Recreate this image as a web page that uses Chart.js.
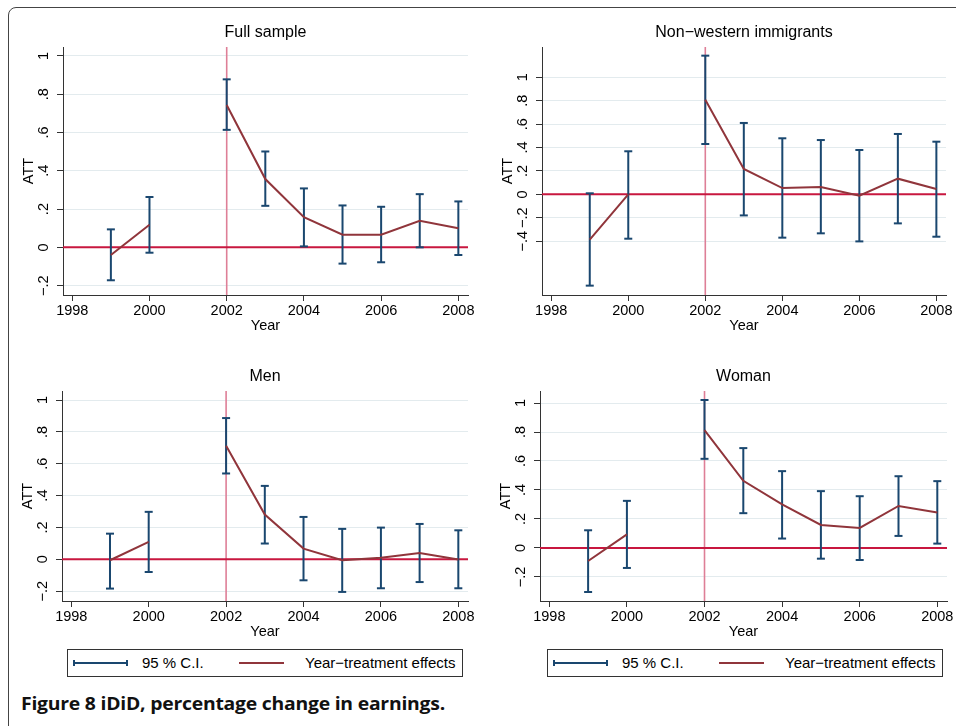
<!DOCTYPE html>
<html>
<head>
<meta charset="utf-8">
<script src="https://cdn.jsdelivr.net/npm/chart.js@4.4.1/dist/chart.umd.min.js"></script>
<style>
  body { margin: 0; background: #fff; width: 956px; height: 726px; overflow: hidden; position: relative;
         font-family: "Liberation Sans", Arial, sans-serif; }
  .frame { position: absolute; left: 8px; top: 7px; width: 1100px; height: 900px;
           border: 1.5px solid #444; border-radius: 8px; }
  canvas { position: absolute; }
  .legend { position: absolute; top: 649px; width: 396px; height: 28px; border: 1px solid #333;
            box-sizing: border-box; font-size: 15px; color: #000; }
  .legend span { position: absolute; }
  .ci { left: 5px; top: 12px; width: 55px; height: 0; border-top: 2px solid #1a476f; }
  .ci::before, .ci::after { content: ""; position: absolute; top: -4px; width: 2px; height: 6px; background: #1a476f; }
  .ci::before { left: 0; }
  .ci::after { right: 0; }
  .ln { left: 171px; top: 12px; width: 45px; height: 0; border-top: 2px solid #90353b; }
  .t1 { left: 74px; top: 4px; }
  .t2 { left: 237px; top: 4px; }
  #caption { position: absolute; left: 21px; top: 695px; line-height: 18px; font-size: 17px;
             font-family: "Open Sans", sans-serif; font-weight: 700; color: #111; letter-spacing: -0.2px;
             white-space: nowrap; transform-origin: 0 0; display: inline-block; }
</style>
</head>
<body>
<div class="frame"></div>

<div class="legend" style="left:67px">
  <span class="ci"></span><span class="t1">95 % C.I.</span>
  <span class="ln"></span><span class="t2">Year−treatment effects</span>
</div>
<div class="legend" style="left:547px">
  <span class="ci"></span><span class="t1">95 % C.I.</span>
  <span class="ln"></span><span class="t2">Year−treatment effects</span>
</div>
<div id="caption">Figure 8 iDiD, percentage change in earnings.</div>

<script>
// values (2001 has no estimate)
const years = [1999, 2000, 2001, 2002, 2003, 2004, 2005, 2006, 2007, 2008];
const treatYear = 2002;
const xTicks = [1998, 2000, 2002, 2004, 2006, 2008];
const xTickLabels = ["1998", "2000", "2002", "2004", "2006", "2008"];

const fullEffect = [-0.040, 0.118, null, 0.744, 0.357, 0.158, 0.066, 0.066, 0.139, 0.100];
const fullLow    = [-0.172, -0.028, null, 0.614, 0.217, 0.005, -0.085, -0.078, 0.000, -0.040];
const fullHigh   = [0.094, 0.263, null, 0.878, 0.501, 0.308, 0.219, 0.212, 0.278, 0.240];

const nwEffect = [-0.387, 0.000, null, 0.809, 0.217, 0.054, 0.063, -0.011, 0.134, 0.046];
const nwLow    = [-0.780, -0.379, null, 0.430, -0.180, -0.370, -0.333, -0.402, -0.248, -0.362];
const nwHigh   = [0.009, 0.368, null, 1.185, 0.610, 0.479, 0.464, 0.379, 0.516, 0.450];

const menEffect = [-0.006, 0.109, null, 0.713, 0.281, 0.067, -0.006, 0.010, 0.040, -0.002];
const menLow    = [-0.184, -0.080, null, 0.539, 0.099, -0.132, -0.205, -0.182, -0.143, -0.182];
const menHigh   = [0.161, 0.298, null, 0.887, 0.461, 0.266, 0.191, 0.199, 0.222, 0.182];

const womanEffect = [-0.090, 0.094, null, 0.813, 0.463, 0.300, 0.159, 0.138, 0.290, 0.244];
const womanLow    = [-0.304, -0.138, null, 0.615, 0.240, 0.065, -0.074, -0.083, 0.083, 0.030];
const womanHigh   = [0.122, 0.325, null, 1.021, 0.689, 0.530, 0.392, 0.357, 0.495, 0.461];

const yTicksA = [-0.2, 0, 0.2, 0.4, 0.6, 0.8, 1];
const yTickLabelsA = ["−.2", "0", ".2", ".4", ".6", ".8", "1"];
const yTicksB = [-0.4, -0.2, 0, 0.2, 0.4, 0.6, 0.8, 1];
const yTickLabelsB = ["−.4", "−.2", "0", ".2", ".4", ".6", ".8", "1"];

const NAVY = "#1a476f", MAROON = "#90353b";

Chart.defaults.font.family = '"Liberation Sans", Arial, sans-serif';
Chart.defaults.color = "#000";

// reference lines at the treatment year and at zero
const refLines = {
  id: "refLines",
  beforeDatasetsDraw(chart) {
    const {ctx, chartArea: a, scales: {x, y}} = chart;
    const px = x.getPixelForValue(treatYear);
    const py = y.getPixelForValue(0);
    ctx.save();
    ctx.lineWidth = 1.6;
    ctx.strokeStyle = "#de7f97";
    ctx.beginPath(); ctx.moveTo(px, a.top); ctx.lineTo(px, a.bottom); ctx.stroke();
    ctx.lineWidth = 2;
    ctx.strokeStyle = "#c8173f";
    ctx.beginPath(); ctx.moveTo(a.left, py); ctx.lineTo(a.right, py); ctx.stroke();
    ctx.restore();
  }
};

function ciPoints(low, high) {
  const pts = [];
  years.forEach((yr, i) => {
    if (low[i] == null) return;
    pts.push({x: yr, y: low[i]}, {x: yr, y: high[i]}, {x: yr, y: null});
  });
  return pts;
}

function makePanel(p) {
  const cv = document.createElement("canvas");
  const left = p.area[0] - 53, top = p.area[1] - 27;
  const w = p.area[2] + 10 - left, h = p.area[3] + 40 - top;
  cv.width = w; cv.height = h;
  cv.style.left = left + "px"; cv.style.top = top + "px";
  document.body.appendChild(cv);

  new Chart(cv, {
    type: "line",
    data: {
      datasets: [
        {
          label: "Year−treatment effects",
          data: years.map((yr, i) => ({x: yr, y: p.effect[i]})),
          borderColor: MAROON, borderWidth: 2, pointRadius: 0, tension: 0, spanGaps: false
        },
        {
          label: "95 % C.I.",
          data: ciPoints(p.low, p.high),
          borderColor: NAVY, borderWidth: 2, spanGaps: false,
          pointStyle: "line", pointRadius: 4, pointBorderWidth: 2, pointBorderColor: NAVY
        }
      ]
    },
    options: {
      responsive: false,
      animation: false,
      layout: {padding: {right: 10}},
      plugins: {
        legend: {display: false},
        tooltip: {enabled: false},
        title: {
          display: true, text: p.title, fullSize: false, color: "#000",
          font: {size: 16, weight: "normal", lineHeight: 1.25},
          padding: {top: 3, bottom: 4}
        }
      },
      scales: {
        x: {
          type: "linear", min: 1997.76, max: 2008.25,
          afterBuildTicks: s => { s.ticks = xTicks.map(v => ({value: v})); },
          afterFit: s => { s.height = 40; },
          ticks: {callback: (v, i) => xTickLabels[i], font: {size: 14.5}, padding: 1,
                  autoSkip: false, maxRotation: 0},
          grid: {drawOnChartArea: false, tickLength: 6, tickColor: "#333"},
          border: {color: "#333", width: 1},
          title: {display: true, text: "Year", font: {size: 14.5}, padding: {top: 0, bottom: 0.8}}
        },
        y: {
          min: p.ymin, max: p.ymax,
          afterBuildTicks: s => { s.ticks = p.yTicks.map(v => ({value: v})); },
          afterFit: s => { s.width = 53; },
          ticks: {callback: (v, i) => p.yLabels[i], font: {size: 14.5}, minRotation: 90, maxRotation: 90,
                  crossAlign: "center", padding: 3, autoSkip: false},
          grid: {color: "#e3ebee", lineWidth: 1, tickLength: 6, tickColor: "#333"},
          border: {color: "#333", width: 1},
          title: {display: true, text: "ATT", font: {size: 14.5}, padding: {top: 10, bottom: 0}}
        }
      }
    },
    plugins: [refLines]
  });
}

makePanel({title: "Full sample", area: [63, 47, 468, 295], effect: fullEffect, low: fullLow, high: fullHigh,
           ymin: -0.249, ymax: 1.047, yTicks: yTicksA, yLabels: yTickLabelsA});
makePanel({title: "Non−western immigrants", area: [542, 47, 946, 295], effect: nwEffect, low: nwLow, high: nwHigh,
           ymin: -0.86, ymax: 1.259, yTicks: yTicksB, yLabels: yTickLabelsB});
makePanel({title: "Men", area: [62, 391, 468, 601], effect: menEffect, low: menLow, high: menHigh,
           ymin: -0.262, ymax: 1.057, yTicks: yTicksA, yLabels: yTickLabelsA});
makePanel({title: "Woman", area: [540, 391, 947, 601], effect: womanEffect, low: womanLow, high: womanHigh,
           ymin: -0.366, ymax: 1.083, yTicks: yTicksA, yLabels: yTickLabelsA});

// fit caption to the printed width
const cap = document.getElementById("caption");
cap.style.transform = "scaleX(" + (424 / cap.getBoundingClientRect().width) + ")";
</script>
</body>
</html>
